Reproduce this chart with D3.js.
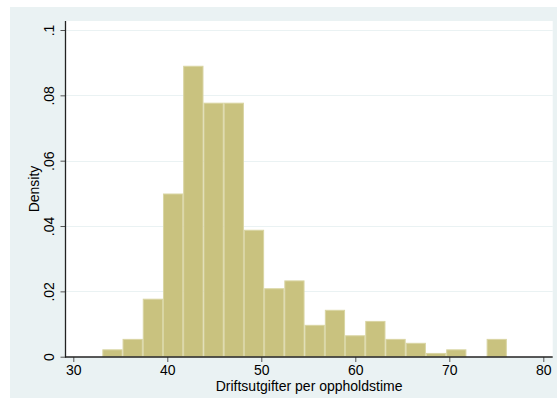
<!DOCTYPE html>
<html>
<head>
<meta charset="utf-8">
<script src="https://cdn.jsdelivr.net/npm/d3@7"></script>
<style>
  html, body { margin: 0; padding: 0; background: #ffffff; }
  svg { display: block; }
  text { font-family: "Liberation Sans", Arial, Helvetica, sans-serif; fill: #000; }
</style>
</head>
<body>
<svg id="chart" width="558" height="407"></svg>
<script>
// Histogram bin edges (21 edges -> 20 bins) of operating cost per hour
const binEdges = [33.09, 35.24, 37.39, 39.54, 41.69, 43.85, 46.00, 48.15, 50.30, 52.45,
                  54.60, 56.76, 58.91, 61.06, 63.21, 65.36, 67.51, 69.67, 71.82, 73.97, 76.12];
// Density of each bin
const densities = [0.0021, 0.0053, 0.0176, 0.0498, 0.0889, 0.0776, 0.0776, 0.0387, 0.0208, 0.0232,
                   0.0096, 0.0142, 0.0064, 0.0108, 0.0053, 0.0041, 0.0010, 0.0021, 0.0000, 0.0053];
// Axis ticks and labels
const xTicks = [30, 40, 50, 60, 70, 80];
const yTicks = [0, 0.02, 0.04, 0.06, 0.08, 0.1];
const yTickLabels = ["0", ".02", ".04", ".06", ".08", ".1"];
const xTitle = "Driftsutgifter per oppholdstime";
const yTitle = "Density";

const bins = densities.map((d, i) => ({ x0: binEdges[i], x1: binEdges[i + 1], density: d }));

const svg = d3.select("#chart");

// Graph region and plot region
const outer = { left: 10, top: 7, right: 557, bottom: 398 };
const plot = { left: 65.5, top: 21, right: 552.7, bottom: 357 };

const x = d3.scaleLinear().domain([30, 80]).range([73.3, 543.3]);
const y = d3.scaleLinear().domain([0, 0.1]).range([356.7, 30]);

svg.append("rect")
  .attr("x", outer.left).attr("y", outer.top)
  .attr("width", outer.right - outer.left).attr("height", outer.bottom - outer.top)
  .attr("fill", "#eaf2f3");

svg.append("rect")
  .attr("x", plot.left).attr("y", plot.top)
  .attr("width", plot.right - plot.left).attr("height", plot.bottom - plot.top)
  .attr("fill", "#ffffff");

// Horizontal gridlines
svg.append("g")
  .selectAll("line")
  .data(yTicks.filter(t => t > 0))
  .join("line")
  .attr("x1", plot.left).attr("x2", plot.right)
  .attr("y1", d => Math.round(y(d)) + 0.5).attr("y2", d => Math.round(y(d)) + 0.5)
  .attr("stroke", "#eaf2f3").attr("stroke-width", 1.2);

// Bars
svg.append("g")
  .selectAll("rect")
  .data(bins.filter(b => b.density > 0))
  .join("rect")
  .attr("x", b => x(b.x0) + 0.5)
  .attr("y", b => y(b.density))
  .attr("width", b => x(b.x1) - x(b.x0) - 1)
  .attr("height", b => y(0) - y(b.density))
  .attr("fill", "#c9c27f")
  .attr("stroke", "#d9d5a3")
  .attr("stroke-width", 1);

// Y axis
const yAxis = d3.axisLeft(y)
  .tickValues(yTicks)
  .tickFormat((d, i) => yTickLabels[i])
  .tickSize(5)
  .tickPadding(4);

const gy = svg.append("g")
  .attr("transform", `translate(${plot.left},0)`)
  .call(yAxis);
gy.select(".domain").remove();
gy.selectAll(".tick line").attr("stroke", "#555").attr("stroke-width", 1);
gy.selectAll(".tick text")
  .attr("font-size", 14)
  .attr("text-anchor", "middle")
  .attr("x", null).attr("dy", null)
  .attr("transform", "translate(-12,0) rotate(-90)");
gy.append("line")
  .attr("x1", 0).attr("x2", 0)
  .attr("y1", plot.top).attr("y2", plot.bottom + 0.5)
  .attr("stroke", "#222").attr("stroke-width", 1.3);

// X axis
const xAxis = d3.axisBottom(x)
  .tickValues(xTicks)
  .tickFormat(d3.format("d"))
  .tickSize(5)
  .tickPadding(3);

const gx = svg.append("g")
  .attr("transform", `translate(0,${plot.bottom})`)
  .call(xAxis);
gx.select(".domain").remove();
gx.selectAll(".tick line").attr("stroke", "#555").attr("stroke-width", 1);
gx.selectAll(".tick text").attr("font-size", 14).attr("fill", "#000");
gx.append("line")
  .attr("x1", plot.left - 0.5).attr("x2", plot.right)
  .attr("y1", 0).attr("y2", 0)
  .attr("stroke", "#222").attr("stroke-width", 1.3);

// Axis titles
svg.append("text")
  .attr("x", (plot.left + plot.right) / 2)
  .attr("y", 391)
  .attr("text-anchor", "middle")
  .attr("font-size", 14)
  .text(xTitle);

svg.append("text")
  .attr("transform", `translate(39,${(plot.top + plot.bottom) / 2}) rotate(-90)`)
  .attr("text-anchor", "middle")
  .attr("font-size", 14)
  .text(yTitle);
</script>
</body>
</html>
